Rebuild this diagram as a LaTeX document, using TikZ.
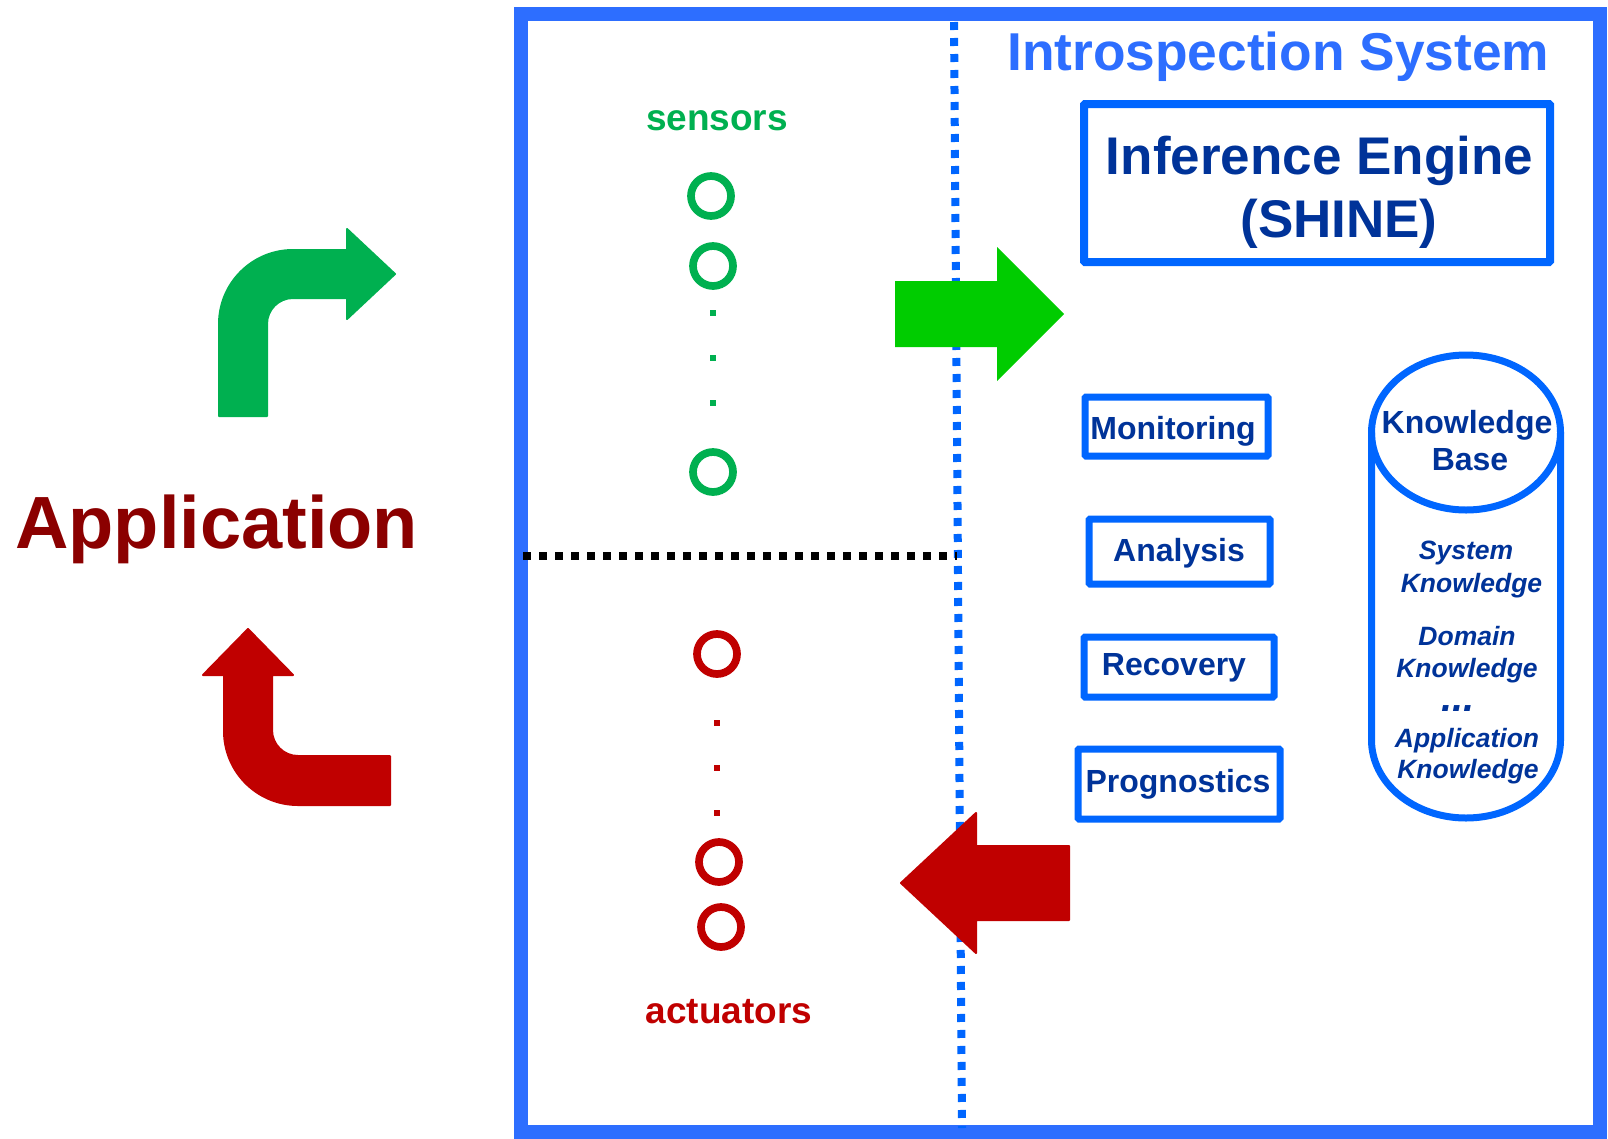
\documentclass[tikz,border=0pt]{standalone}
\usepackage{fontspec}
\setmainfont{Liberation Sans}
\definecolor{frameblue}{RGB}{45,110,255}
\definecolor{boxblue}{RGB}{0,102,255}
\definecolor{navy}{RGB}{0,51,153}
\definecolor{sgreen}{RGB}{0,176,80}
\definecolor{bgreen}{RGB}{0,204,0}
\definecolor{ared}{RGB}{192,0,0}
\definecolor{appred}{RGB}{139,0,0}
\newcommand\myfs[1]{\fontsize{#1}{#1}\selectfont}
\tikzset{
  txt/.style={inner sep=0pt, anchor=base},
  boxst/.style={draw=boxblue, line width=7pt, inner sep=0pt, rounded corners=1pt},
  ring/.style={circle, draw=#1, line width=7.7pt, minimum size=40pt, inner sep=0pt},
  sq/.style={fill=#1, minimum size=6pt, inner sep=0pt},
  blockarrow/.style={fill=#1, draw=#1, line width=2pt, line join=round},
}
\begin{document}
\begin{tikzpicture}[x=1pt,y=-1pt]
\useasboundingbox (0,0) rectangle (1608,1138);
% outer frame
\draw[frameblue, line width=14pt] (521,14) rectangle (1600,1132);
% separators
\draw[boxblue, line width=8pt, dash pattern=on 8pt off 8pt] (954,22) -- (962,1128);
\draw[black, line width=8pt, dash pattern=on 8pt off 8pt] (523,556) -- (957,556);
% title
\node[txt, anchor=base west, text=frameblue, font=\bfseries\myfs{53.3}] (title) at (1007,70) {Introspection System};
% inference engine
\node[boxst, draw=boxblue, line width=8pt, minimum width=466pt, minimum height=158pt] (ie) at (1317,183) {};
\node[txt, text=navy, font=\bfseries\myfs{53}] (ie1) at (1319.5,174) {Inference Engine};
\node[txt, text=navy, font=\bfseries\myfs{53}] (ie2) at (1339,237) {(SHINE)};
% function boxes
\node[boxst, minimum width=183pt, minimum height=59pt] (mon) at (1176.5,426.5) {};
\node[boxst, minimum width=181pt, minimum height=65pt] (ana) at (1179.5,551.5) {};
\node[boxst, minimum width=190pt, minimum height=60pt] (rec) at (1179,667) {};
\node[boxst, minimum width=202pt, minimum height=70pt] (prog) at (1179,784) {};
\node[txt, text=navy, font=\bfseries\myfs{32}] (tmon) at (1173,439) {Monitoring};
\node[txt, text=navy, font=\bfseries\myfs{32}] (tana) at (1179,561) {Analysis};
\node[txt, text=navy, font=\bfseries\myfs{32}] (trec) at (1174,675) {Recovery};
\node[txt, text=navy, font=\bfseries\myfs{32}] (tprog) at (1178,792) {Prognostics};
% knowledge base cylinder
\draw[boxblue, line width=7pt] (1371.5,432.5) -- (1371.5,740)
  arc[start angle=180, end angle=0, x radius=94.5, y radius=78] -- (1560.5,432.5);
\draw[boxblue, line width=7pt] (1466,432.5) ellipse[x radius=94.5, y radius=77.5];
\node[txt, text=navy, font=\bfseries\myfs{32}] (kb1) at (1467,433) {Knowledge};
\node[txt, text=navy, font=\bfseries\myfs{32}] (kb2) at (1470,470) {Base};
\node[txt, text=navy, font=\bfseries\itshape\myfs{26.5}] (k1) at (1466,559) {System};
\node[txt, text=navy, font=\bfseries\itshape\myfs{26.5}] (k2) at (1471.5,592) {Knowledge};
\node[txt, text=navy, font=\bfseries\itshape\myfs{26.5}] (k3) at (1467,645) {Domain};
\node[txt, text=navy, font=\bfseries\itshape\myfs{26.5}] (k4) at (1467,677) {Knowledge};
\node[txt, text=navy, font=\bfseries\itshape\myfs{40}] (k5) at (1458,711) {...};
\node[txt, text=navy, font=\bfseries\itshape\myfs{26.5}] (k6) at (1467,747) {Application};
\node[txt, text=navy, font=\bfseries\itshape\myfs{26.5}] (k7) at (1468,778) {Knowledge};
% sensors
\node[txt, text=sgreen, font=\bfseries\myfs{37}] (sens) at (717,130) {sensors};
\node[ring=sgreen] (s1) at (711,196) {};
\node[ring=sgreen] (s2) at (713,266) {};
\node[sq=sgreen] (sd1) at (713,313) {};
\node[sq=sgreen] (sd2) at (713,358) {};
\node[sq=sgreen] (sd3) at (713,403) {};
\node[ring=sgreen] (s3) at (713,472) {};
% actuators
\node[ring=ared] (a1) at (717,654) {};
\node[sq=ared] (ad1) at (717,723) {};
\node[sq=ared] (ad2) at (717,768) {};
\node[sq=ared] (ad3) at (717,813) {};
\node[ring=ared] (a2) at (719,862) {};
\node[ring=ared] (a3) at (721,927) {};
\node[txt, text=ared, font=\bfseries\myfs{37}] (act) at (729,1023) {actuators};
% application
\node[txt, anchor=base west, text=appred, font=\bfseries\myfs{74}] (app) at (15,548) {Application};
% block arrows
\path[fill=bgreen] (895,281) -- (997,281) -- (997,247) -- (1064,314) -- (997,381) -- (997,347) -- (895,347) -- cycle;
\path[blockarrow=ared] (901,883) -- (976,813) -- (976,846) -- (1069,846) -- (1069,920) -- (976,920) -- (976,953) -- cycle;
% bent arrows
\path[blockarrow=sgreen] (219,416) -- (219,324) arc[start angle=180, end angle=270, radius=74]
  -- (347,250) -- (347,229) -- (395,274) -- (347,319) -- (347,298) -- (293,298)
  arc[start angle=270, end angle=180, radius=26] -- (267,416) -- cycle;
\path[blockarrow=ared] (248,629) -- (293,675) -- (272,675) -- (272,730)
  arc[start angle=180, end angle=90, radius=26] -- (390,756) -- (390,805) -- (298,805)
  arc[start angle=90, end angle=180, radius=74] -- (224,675) -- (203,675) -- cycle;
\end{tikzpicture}
\end{document}
